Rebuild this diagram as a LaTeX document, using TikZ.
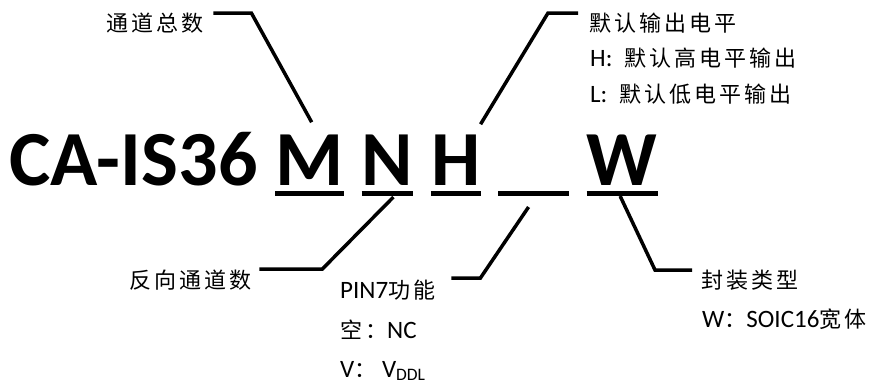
\documentclass[tikz,border=0pt]{standalone}
\usepackage{fontspec}
\setmainfont{Carlito}
\newfontfamily\cjk{Noto Sans CJK SC}[Scale=0.88,LetterSpace=13.6]
\usetikzlibrary{positioning}
\newcommand{\gapw}{17.6pt}
\newcommand{\lblfont}{\fontsize{25}{30}\selectfont}
\newcommand{\pnfont}{\fontsize{78}{80}\selectfont\bfseries}

\begin{document}
\begin{tikzpicture}[x=1pt, y=-1pt,
    part/.style={inner sep=0pt, font=\pnfont},
    lbl/.style={anchor=base west, inner sep=0pt, font=\lblfont},
    leader/.style={line width=3.5pt},
    ulrule/.style={line width=5pt}]

  \useasboundingbox (0,0) rectangle (884,389);

  % Part number, one box per field
  \node[part, anchor=base west] (pn) at (9.2,185) {CA-IS36};
  \node[part] (M) [base right=\gapw of pn] {M};
  \node[part] (N) [base right=\gapw of M] {N};
  \node[part] (H) [base right=\gapw of N] {H};
  \node[part, minimum width=4*\gapw] (B) [base right=\gapw of H] {};
  \node[part] (W) [base right=\gapw of B] {W};

  % Underlines of the fields
  \foreach \f in {M,N,H,B,W}
    \draw[ulrule] ([yshift=-8pt]\f.base west) -- ([yshift=-8pt]\f.base east);

  % Labels above
  \node[lbl] (tA) at (106,31) {\cjk 通道总数};
  \node[lbl] (tH1) at (589,31) {\cjk 默认输出电平};
  \node[lbl] (tH2) at ([shift={(1pt,-35.5pt)}]tH1.base west) {H:\hspace{12pt}{\cjk 默认高电平输出}};
  \node[lbl] (tH3) at ([yshift=-35.5pt]tH2.base west) {L:\hspace{12pt}{\cjk 默认低电平输出}};

  % Labels below
  \node[lbl] (tN) at (129,288) {\cjk 反向通道数};
  \node[lbl] (tP1) at (340,298) {PIN7{\cjk 功能}};
  \node[lbl] (tP2) at ([yshift=-40pt]tP1.base west) {{\cjk 空：}NC};
  \node[lbl] (tP3) at ([yshift=-39pt]tP2.base west) {V{\cjk ：} V\textsubscript{DDL}};
  \node[lbl] (tW1) at (701,288) {\cjk 封装类型};
  \node[lbl] (tW2) at ([shift={(1pt,-39pt)}]tW1.base west) {W{\cjk ：}SOIC16{\cjk 宽体}};

  % Leader lines
  \draw[leader] ([shift={(10pt,18pt)}]tA.base east) -- ++(38,0)
    -- ([shift={(2pt,12pt)}]M.north);
  \draw[leader] ([shift={(-11pt,18pt)}]tH1.base west) -- ++(-30,0)
    -- ([yshift=10pt]H.north east);
  \draw[leader] ([shift={(8pt,19pt)}]tN.base east) -- ++(63,0)
    -- ([shift={(6pt,-12pt)}]N.base);
  \draw[leader] ([shift={(16pt,20pt)}]tP1.base east) -- ++(29,0)
    -- ([shift={(-5pt,-22pt)}]B.base);
  \draw[leader] ([shift={(-2pt,-11pt)}]W.base) -- ([shift={(-46pt,18pt)}]tW1.base west)
    -- ([shift={(-9pt,18pt)}]tW1.base west);

\end{tikzpicture}
\end{document}
